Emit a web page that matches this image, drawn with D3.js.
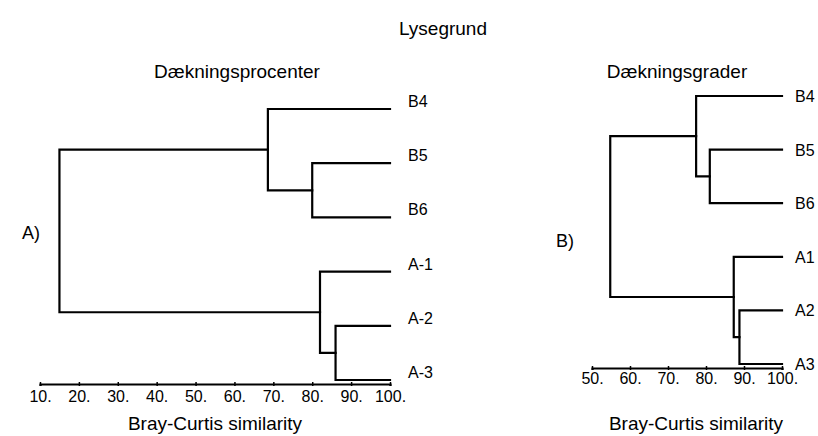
<!DOCTYPE html>
<html>
<head>
<meta charset="utf-8">
<script src="https://cdn.jsdelivr.net/npm/d3@7"></script>
<style>
  body { margin: 0; background: #fff; }
  svg text { font-family: "Liberation Sans", Arial, sans-serif; fill: #000; }
</style>
</head>
<body>
<div id="wrapper"></div>
<script>
// leaves top to bottom, merges refer to leaf index (0..5) or earlier merge (6+)
const leftLeaves = ["B4", "B5", "B6", "A-1", "A-2", "A-3"];
const leftMerges = [[1, 2, 80], [4, 5, 86], [3, 7, 82], [0, 6, 68.6], [9, 8, 15]];
const leftTicks = [10, 20, 30, 40, 50, 60, 70, 80, 90, 100];

const rightLeaves = ["B4", "B5", "B6", "A1", "A2", "A3"];
const rightMerges = [[1, 2, 81], [4, 5, 88.8], [3, 7, 87.3], [0, 6, 77.4], [9, 8, 54.8]];
const rightTicks = [50, 60, 70, 80, 90, 100];

const svg = d3.select("#wrapper").append("svg")
    .attr("width", 818)
    .attr("height", 436);

svg.append("text")
    .attr("x", 443).attr("y", 35)
    .attr("text-anchor", "middle")
    .attr("font-size", 19)
    .text("Lysegrund");

function buildTree(leaves, merges) {
  const nodes = leaves.map(function(name) { return {name: name, sim: 100}; });
  merges.forEach(function(m) {
    nodes.push({sim: m[2], children: [nodes[m[0]], nodes[m[1]]]});
  });
  return d3.hierarchy(nodes[nodes.length - 1]);
}

function drawDendro(cfg) {
  const x = d3.scaleLinear().domain(cfg.domain).range(cfg.xRange);
  const y = d3.scalePoint().domain(cfg.leaves).range(cfg.yRange);
  const root = buildTree(cfg.leaves, cfg.merges);

  root.eachAfter(function(n) {
    n.px = x(n.data.sim);
    if (n.children) {
      const ys = n.children.map(function(c) { return c.py; });
      n.py = (d3.min(ys) + d3.max(ys)) / 2;
    } else {
      n.py = y(n.data.name);
    }
  });

  const g = svg.append("g");

  g.selectAll(".link")
      .data(root.descendants().filter(function(d) { return d.children; }))
      .enter()
      .append("path")
      .attr("class", "link")
      .attr("fill", "none")
      .attr("stroke", "#000")
      .attr("stroke-width", 2.2)
      .attr("stroke-linecap", "square")
      .attr("d", function(n) {
        const ys = n.children.map(function(c) { return c.py; });
        let p = "M" + n.px + "," + d3.min(ys) + "V" + d3.max(ys);
        n.children.forEach(function(c) {
          p += "M" + n.px + "," + c.py + "H" + c.px;
        });
        return p;
      });

  g.selectAll(".leaf")
      .data(root.leaves())
      .enter()
      .append("text")
      .attr("class", "leaf")
      .attr("x", x(100) + cfg.labelDx)
      .attr("y", function(d) { return d.py + cfg.labelDy; })
      .attr("font-size", 16)
      .text(function(d) { return d.data.name; });

  // axis
  const axis = d3.axisBottom(x)
      .tickValues(cfg.ticks)
      .tickSizeOuter(0)
      .tickSize(2)
      .tickFormat(function(d) { return d + "."; });

  const ax = g.append("g")
      .attr("transform", "translate(0," + cfg.axisY + ")")
      .call(axis);
  ax.select(".domain").attr("stroke", "#000").attr("stroke-width", 2.2);
  ax.selectAll(".tick line").attr("y1", -2).attr("y2", 2).attr("stroke-width", 1.5);
  ax.selectAll(".tick text")
      .attr("y", cfg.tickDy)
      .attr("font-size", 16)
      .attr("font-family", "Liberation Sans, Arial, sans-serif")
      .attr("fill", "#000");

  g.append("text")
      .attr("x", cfg.axisTitleX).attr("y", 430)
      .attr("text-anchor", "middle")
      .attr("font-size", 19)
      .text("Bray-Curtis similarity");

  g.append("text")
      .attr("x", cfg.titleX).attr("y", 78)
      .attr("text-anchor", "middle")
      .attr("font-size", 19)
      .text(cfg.title);

  g.append("text")
      .attr("x", cfg.tagX).attr("y", cfg.tagY)
      .attr("font-size", 18)
      .text(cfg.tag);
}

drawDendro({
  leaves: leftLeaves, merges: leftMerges, ticks: leftTicks,
  domain: [10, 100], xRange: [40, 390], yRange: [109, 380],
  axisY: 384, tickDy: 7, labelDx: 18, labelDy: -2,
  axisTitleX: 215, title: "Dækningsprocenter", titleX: 237,
  tag: "A)", tagX: 22, tagY: 239
});

drawDendro({
  leaves: rightLeaves, merges: rightMerges, ticks: rightTicks,
  domain: [50, 100], xRange: [592, 782], yRange: [96, 364],
  axisY: 368, tickDy: 5, labelDx: 13, labelDy: 6,
  axisTitleX: 696, title: "Dækningsgrader", titleX: 677,
  tag: "B)", tagX: 556, tagY: 247
});
</script>
</body>
</html>
